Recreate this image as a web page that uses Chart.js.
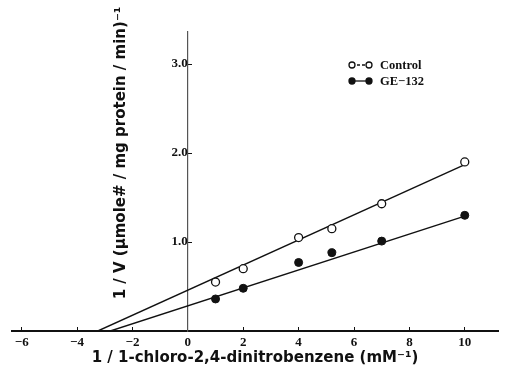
<!DOCTYPE html>
<html>
<head>
<meta charset="utf-8">
<script src="https://cdn.jsdelivr.net/npm/chart.js@4"></script>
<style>
html, body { margin: 0; padding: 0; background: #fff; }
</style>
</head>
<body>
<canvas id="chart" width="506" height="379"></canvas>
<script>
// values
const substrate = [1, 2, 4, 5.2, 7, 10];
const controlV = [0.55, 0.70, 1.05, 1.15, 1.43, 1.90];
const ge132V = [0.36, 0.48, 0.77, 0.88, 1.01, 1.30];

// the drawn regression lines, read at their two ends
const controlFitX = [-3.25, 10];
const controlFitY = [0, 1.87];
const geFitX = [-2.8, 10];
const geFitY = [0, 1.29];

const xTicks = [-6, -4, -2, 0, 2, 4, 6, 8, 10];
const yTicks = [1, 2, 3];
const seriesNames = ['Control', 'GE\u2212132'];
const xTitle = '1 / 1-chloro-2,4-dinitrobenzene (mM\u207b\u00b9)';
const yTitle = '1 / V (\u03bcmole# / mg protein / min)\u207b\u00b9';

const ink = '#111';
const tickFont = { family: '"Liberation Serif", serif', size: 13, weight: 'bold' };
const titleFont = { family: '"DejaVu Sans", sans-serif', size: 15, weight: 'bold' };

function toPoints(xs, ys) {
    return xs.map((x, i) => ({ x: x, y: ys[i] }));
}

// y title and the little legend in the upper right
const extras = {
    id: 'extras',
    afterDraw(chart) {
        const ctx = chart.ctx;
        ctx.save();
        ctx.fillStyle = ink;
        ctx.font = `bold ${titleFont.size}px ${titleFont.family}`;
        ctx.textAlign = 'center';
        ctx.textBaseline = 'middle';
        ctx.translate(121, 153);
        ctx.rotate(-Math.PI / 2);
        ctx.fillText(yTitle, 0, 0);
        ctx.restore();

        ctx.save();
        ctx.font = 'bold 12.5px "Liberation Serif", serif';
        ctx.textAlign = 'left';
        ctx.textBaseline = 'middle';
        seriesNames.forEach((name, i) => {
            const y = 65 + i * 16;
            const filled = i === 1;
            ctx.strokeStyle = ink;
            ctx.lineWidth = 1.3;
            ctx.setLineDash(filled ? [] : [3, 2]);
            ctx.beginPath();
            ctx.moveTo(352, y);
            ctx.lineTo(369, y);
            ctx.stroke();
            ctx.setLineDash([]);
            [352, 369].forEach(cx => {
                ctx.beginPath();
                ctx.arc(cx, y, 3, 0, Math.PI * 2);
                ctx.fillStyle = filled ? ink : '#fff';
                ctx.fill();
                ctx.stroke();
            });
            ctx.fillStyle = ink;
            ctx.fillText(name, 380, y + 1);
        });
        ctx.restore();
    }
};

new Chart(document.getElementById('chart'), {
    type: 'scatter',
    data: {
        datasets: [
            {
                label: seriesNames[0],
                data: toPoints(substrate, controlV),
                pointRadius: 4,
                pointBackgroundColor: '#fff',
                pointBorderColor: ink,
                pointBorderWidth: 1.3,
                order: 0
            },
            {
                label: seriesNames[1],
                data: toPoints(substrate, ge132V),
                pointRadius: 4,
                pointBackgroundColor: ink,
                pointBorderColor: ink,
                pointBorderWidth: 1,
                order: 0
            },
            {
                type: 'line',
                label: 'control fit',
                data: toPoints(controlFitX, controlFitY),
                borderColor: ink,
                borderWidth: 1.4,
                pointRadius: 0,
                order: 1
            },
            {
                type: 'line',
                label: 'GE fit',
                data: toPoints(geFitX, geFitY),
                borderColor: ink,
                borderWidth: 1.4,
                pointRadius: 0,
                order: 1
            }
        ]
    },
    options: {
        responsive: false,
        animation: false,
        layout: { padding: { left: 12, right: 8, top: 32, bottom: 8 } },
        plugins: {
            legend: { display: false },
            tooltip: { enabled: false }
        },
        scales: {
            x: {
                type: 'linear',
                position: 'bottom',
                min: -6.35,
                max: 11.2,
                afterBuildTicks: s => { s.ticks = xTicks.map(v => ({ value: v })); },
                afterFit: s => { s.height = 40; },
                border: { color: ink, width: 2 },
                grid: { drawOnChartArea: false, tickLength: -4, color: ink, tickWidth: 1 },
                ticks: {
                    color: ink,
                    font: tickFont,
                    padding: 8,
                    maxRotation: 0,
                    callback: v => String(v).replace('-', '\u2212')
                },
                title: {
                    display: true,
                    text: xTitle,
                    color: ink,
                    font: titleFont,
                    padding: { top: 0, bottom: 4 }
                }
            },
            y: {
                type: 'linear',
                position: { x: 0 },
                min: 0,
                max: 3.36,
                afterBuildTicks: s => { s.ticks = yTicks.map(v => ({ value: v })); },
                border: { color: '#555', width: 1.2 },
                grid: { drawOnChartArea: false, tickLength: -5, color: ink, tickWidth: 1 },
                ticks: {
                    color: ink,
                    font: tickFont,
                    padding: 2,
                    callback: v => v.toFixed(1)
                }
            }
        }
    },
    plugins: [extras]
});
</script>
</body>
</html>
